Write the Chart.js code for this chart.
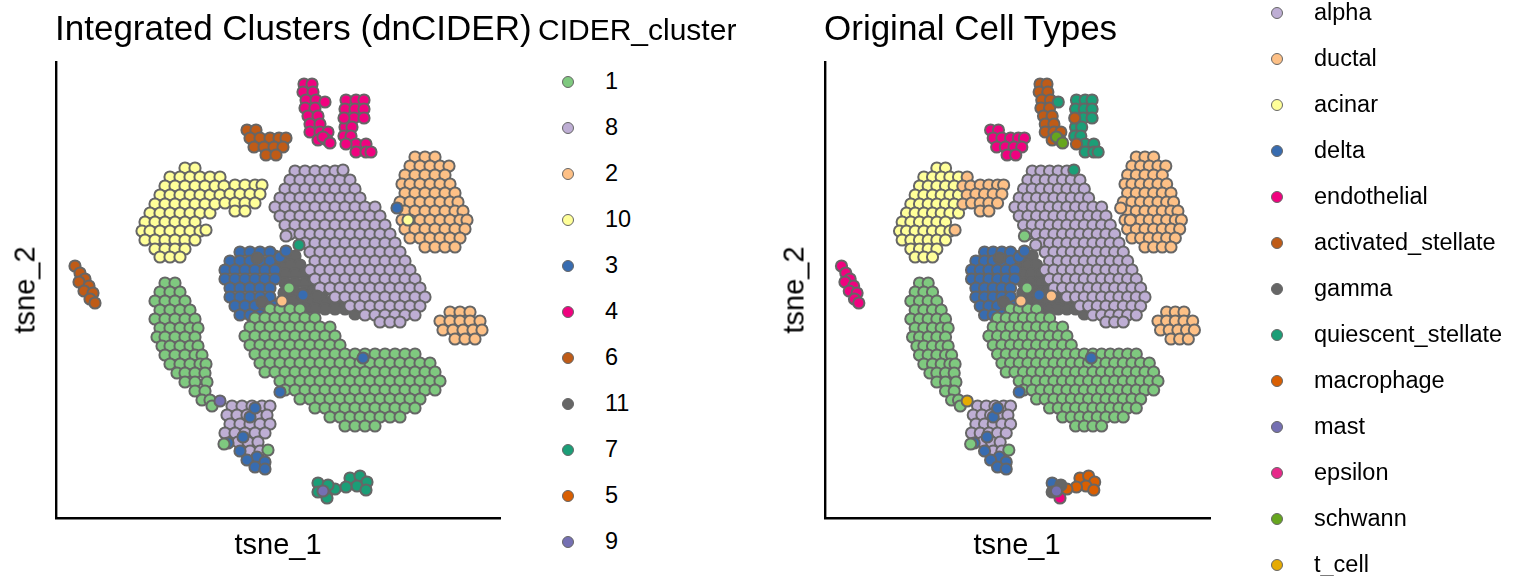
<!DOCTYPE html>
<html>
<head>
<meta charset="utf-8">
<script src="https://cdn.jsdelivr.net/npm/chart.js@4.4.1/dist/chart.umd.min.js"></script>
<style>
  body { margin: 0; width: 1536px; height: 576px; overflow: hidden; position: relative; background: #fff;
         font-family: "Liberation Sans", Arial, Helvetica, sans-serif; color: #000; }
  canvas { position: absolute; top: 0; }
  .t { position: absolute; white-space: nowrap; line-height: 1; }
  .dot { position: absolute; width: 10px; height: 10px; border-radius: 50%; border: 1.5px solid #666666; }
</style>
</head>
<body>
<canvas id="clusters" width="520" height="576" style="left:0"></canvas>
<canvas id="celltypes" width="470" height="576" style="left:760px"></canvas>
<script>
// Legend keys + palette (Accent, then Dark2)
const CLUSTER_KEYS = ['1', '8', '2', '10', '3', '4', '6', '11', '7', '5', '9'];
const CLUSTER_COLORS = ['#7FC97F', '#BEAED4', '#FDC086', '#FFFF99', '#386CB0', '#F0027F', '#BF5B17', '#666666', '#1B9E77', '#D95F02', '#7570B3'];
const CELL_KEYS = ['beta', 'alpha', 'ductal', 'acinar', 'delta', 'endothelial', 'activated_stellate', 'gamma',
  'quiescent_stellate', 'macrophage', 'mast', 'epsilon', 'schwann', 't_cell'];
const CELL_COLORS = ['#7FC97F', '#BEAED4', '#FDC086', '#FFFF99', '#386CB0', '#F0027F', '#BF5B17', '#666666',
  '#1B9E77', '#D95F02', '#7570B3', '#E7298A', '#66A61E', '#E6AB02'];

// tsne_1 / tsne_2 limits
const TSNE1_RANGE = [-22.4, 22.0];
const TSNE2_RANGE = [-22.8, 22.8];

// Cells as [tsne_1, tsne_2], grouped by (CIDER cluster, original cell type)
const GRAY_CORE = [
  [-0.5,3.4],[0.5,3.4],[1.5,3.4],[0,2.5],[1,2.5],[2,2.5],[0.5,1.6],[1.5,1.6],[2.5,1.6],
  [0.5,0.7],[1.5,0.7],[2.5,0.7],[3.3,0.7],[0.4,-0.3],[1.5,-0.2],[2.5,-0.2],[3.3,-0.2],[4.3,-0.2],
  [0.3,-1.3],[1.2,-1.1],[2.2,-1.1],[3.2,-1.1],[4.2,-1.1],[5.2,-1.1],[6.2,-1.1],
  [2.5,-1.9],[3.5,-1.9],[4.5,-1.9],[5.5,-1.9],[6.5,-1.9],[7.5,-2.4]
];
const LAVENDER_CORE = [
  [1.5,11.9],[2.5,11.9],[3.5,11.9],[4.5,11.9],[5.5,11.9],
  [1,11],[2,11],[3,11],[4,11],[5,11],[6,11],[7,11],
  [0.5,10.1],[1.5,10.1],[2.5,10.1],[3.5,10.1],[4.5,10.1],[5.5,10.1],[6.5,10.1],[7.5,10.1],
  [0,9.2],[1,9.2],[2,9.2],[3,9.2],[4,9.2],[5,9.2],[6,9.2],[7,9.2],[8,9.2],
  [-0.5,8.3],[0.5,8.3],[1.5,8.3],[2.5,8.3],[3.5,8.3],[4.5,8.3],[5.5,8.3],[6.5,8.3],[7.5,8.3],[8.5,8.3],[9.5,8.3],
  [0,7.4],[1,7.4],[2,7.4],[3,7.4],[4,7.4],[5,7.4],[6,7.4],[7,7.4],[8,7.4],[9,7.4],[10,7.4],
  [0.5,6.5],[1.5,6.5],[2.5,6.5],[3.5,6.5],[4.5,6.5],[5.5,6.5],[6.5,6.5],[7.5,6.5],[8.5,6.5],[9.5,6.5],[10.5,6.5],
  [1,5.6],[2,5.6],[3,5.6],[4,5.6],[5,5.6],[6,5.6],[7,5.6],[8,5.6],[9,5.6],[10,5.6],[11,5.6],
  [2.5,4.7],[3.5,4.7],[4.5,4.7],[5.5,4.7],[6.5,4.7],[7.5,4.7],[8.5,4.7],[9.5,4.7],[10.5,4.7],[11.5,4.7],
  [3,3.8],[4,3.8],[5,3.8],[6,3.8],[7,3.8],[8,3.8],[9,3.8],[10,3.8],[11,3.8],[12,3.8],
  [3.5,2.9],[4.5,2.9],[5.5,2.9],[6.5,2.9],[7.5,2.9],[8.5,2.9],[9.5,2.9],[10.5,2.9],[11.5,2.9],[12.5,2.9],
  [3,2],[4,2],[5,2],[6,2],[7,2],[8,2],[9,2],[10,2],[11,2],[12,2],[13,2],
  [3.5,1.1],[4.5,1.1],[5.5,1.1],[6.5,1.1],[7.5,1.1],[8.5,1.1],[9.5,1.1],[10.5,1.1],[11.5,1.1],[12.5,1.1],[13.5,1.1],
  [4,0.2],[5,0.2],[6,0.2],[7,0.2],[8,0.2],[9,0.2],[10,0.2],[11,0.2],[12,0.2],[13,0.2],[14,0.2],
  [5.5,-0.7],[6.5,-0.7],[7.5,-0.7],[8.5,-0.7],[9.5,-0.7],[10.5,-0.7],[11.5,-0.7],[12.5,-0.7],[13.5,-0.7],[14.5,-0.7],
  [7,-1.6],[8,-1.6],[9,-1.6],[10,-1.6],[11,-1.6],[12,-1.6],[13,-1.6],[14,-1.6],
  [8.5,-2.5],[9.5,-2.5],[10.5,-2.5],[11.5,-2.5],[12.5,-2.5],[13.5,-2.5],
  [10,-3.2],[11,-3.2],[12,-3.2]
];
const BLUE_CORE = [
  [-4,3.8],[-3,3.8],[-2,3.8],[-1,3.8],
  [-5,2.9],[-4,2.9],[-3,2.9],[-2,2.9],[-1,2.9],
  [-5.5,2],[-4.5,2],[-3.5,2],[-2.5,2],[-1.5,2],[-0.5,2],
  [-5.5,1.1],[-4.5,1.1],[-3.5,1.1],[-2.5,1.1],[-1.5,1.1],[-0.5,1.1],
  [-5,0.2],[-4,0.2],[-3,0.2],[-2,0.2],[-1,0.2],
  [-5,-0.7],[-4,-0.7],[-3,-0.7],[-2,-0.7],[-1,-0.7],
  [-4.5,-1.6],[-3.5,-1.6],[-2.5,-1.6],[-1.5,-1.6],[-0.5,-1.6],
  [-4,-2.5],[-3,-2.5],[-2,-2.5],[-1,-2.5]
];
const GRAY_IN_BLUE = [[-2.3,3.2],[-1.8,-1.2]];
const GREEN_MAIN = [
  [-1,-1.9],[0,-1.9],[1,-1.9],[2,-1.9],
  [-2.5,-2.8],[-1.5,-2.8],[-0.5,-2.8],[0.5,-2.8],[1.5,-2.8],[2.5,-2.8],[3.5,-2.8],
  [-3,-3.7],[-2,-3.7],[-1,-3.7],[0,-3.7],[1,-3.7],[2,-3.7],[3,-3.7],[4,-3.7],[5,-3.7],
  [-3.5,-4.6],[-2.5,-4.6],[-1.5,-4.6],[-0.5,-4.6],[0.5,-4.6],[1.5,-4.6],[2.5,-4.6],[3.5,-4.6],[4.5,-4.6],[5.5,-4.6],
  [-3,-5.5],[-2,-5.5],[-1,-5.5],[0,-5.5],[1,-5.5],[2,-5.5],[3,-5.5],[4,-5.5],[5,-5.5],[6,-5.5],
  [-2.5,-6.4],[-1.5,-6.4],[-0.5,-6.4],[0.5,-6.4],[1.5,-6.4],[2.5,-6.4],[3.5,-6.4],[4.5,-6.4],[5.5,-6.4],
  [6.5,-6.4],[7.5,-6.4],[8.5,-6.4],[9.5,-6.4],[10.5,-6.4],[11.5,-6.4],[12.5,-6.4],[13.5,-6.4],
  [-2,-7.3],[-1,-7.3],[0,-7.3],[1,-7.3],[2,-7.3],[3,-7.3],[4,-7.3],[5,-7.3],[6,-7.3],
  [7,-7.3],[8,-7.3],[9,-7.3],[10,-7.3],[11,-7.3],[12,-7.3],[13,-7.3],[14,-7.3],[15,-7.3],
  [-1.5,-8.2],[-0.5,-8.2],[0.5,-8.2],[1.5,-8.2],[2.5,-8.2],[3.5,-8.2],[4.5,-8.2],[5.5,-8.2],[6.5,-8.2],
  [7.5,-8.2],[8.5,-8.2],[9.5,-8.2],[10.5,-8.2],[11.5,-8.2],[12.5,-8.2],[13.5,-8.2],[14.5,-8.2],[15.5,-8.2],
  [0,-9.1],[1,-9.1],[2,-9.1],[3,-9.1],[4,-9.1],[5,-9.1],[6,-9.1],[7,-9.1],[8,-9.1],
  [9,-9.1],[10,-9.1],[11,-9.1],[12,-9.1],[13,-9.1],[14,-9.1],[15,-9.1],[16,-9.1],
  [0.5,-10],[1.5,-10],[2.5,-10],[3.5,-10],[4.5,-10],[5.5,-10],[6.5,-10],[7.5,-10],
  [8.5,-10],[9.5,-10],[10.5,-10],[11.5,-10],[12.5,-10],[13.5,-10],[14.5,-10],[15.5,-10],
  [2,-10.9],[3,-10.9],[4,-10.9],[5,-10.9],[6,-10.9],[7,-10.9],[8,-10.9],[9,-10.9],[10,-10.9],[11,-10.9],[12,-10.9],[13,-10.9],[14,-10.9],
  [3.5,-11.8],[4.5,-11.8],[5.5,-11.8],[6.5,-11.8],[7.5,-11.8],[8.5,-11.8],[9.5,-11.8],[10.5,-11.8],[11.5,-11.8],[12.5,-11.8],[13.5,-11.8],
  [5,-12.7],[6,-12.7],[7,-12.7],[8,-12.7],[9,-12.7],[10,-12.7],[11,-12.7],[12,-12.7],
  [6.5,-13.6],[7.5,-13.6],[8.5,-13.6],[9.5,-13.6]
];
const GREEN_ARC = [
  [-11.5,0.7],[-10.5,0.7],
  [-12,-0.2],[-11,-0.2],[-10,-0.2],
  [-12.5,-1.1],[-11.5,-1.1],[-10.5,-1.1],[-9.5,-1.1],
  [-12,-2],[-11,-2],[-10,-2],[-9,-2],
  [-12.5,-2.9],[-11.5,-2.9],[-10.5,-2.9],[-9.5,-2.9],[-8.5,-2.9],
  [-12,-3.8],[-11,-3.8],[-10,-3.8],[-9,-3.8],[-8.2,-3.8],
  [-12.3,-4.7],[-11.5,-4.7],[-10.5,-4.7],[-9.5,-4.7],[-8.5,-4.7],
  [-11.8,-5.6],[-11,-5.6],[-10,-5.6],[-9,-5.6],[-8.2,-5.6],
  [-11.5,-6.5],[-10.5,-6.5],[-9.5,-6.5],[-8.5,-6.5],[-7.8,-6.5],
  [-11,-7.4],[-10,-7.4],[-9,-7.4],[-8,-7.4],[-7.4,-7.4],
  [-10.3,-8.3],[-9.5,-8.3],[-8.5,-8.3],[-7.5,-8.3],
  [-9.5,-9.2],[-8.5,-9.2],[-7.3,-9.2],
  [-8.5,-10.1],[-7.5,-10.1],
  [-7.8,-11],[-7,-11],[-6.8,-11.6]
];
const YELLOW_CORE = [
  [-9.5,12.2],[-8.5,12.2],
  [-11,11.3],[-10,11.3],[-9,11.3],[-8,11.3],[-7,11.3],
  [-11.5,10.4],[-10.5,10.4],[-9.5,10.4],[-8.5,10.4],[-7.5,10.4],
  [-12,9.5],[-11,9.5],[-10,9.5],[-9,9.5],[-8,9.5],[-7,9.5],
  [-12.5,8.6],[-11.5,8.6],[-10.5,8.6],[-9.5,8.6],[-8.5,8.6],[-7.5,8.6],
  [-13,7.7],[-12,7.7],[-11,7.7],[-10,7.7],[-9,7.7],[-8,7.7],[-7,7.7],
  [-13.5,6.8],[-12.5,6.8],[-11.5,6.8],[-10.5,6.8],[-9.5,6.8],[-8.5,6.8],
  [-13.8,5.9],[-13,5.9],[-12,5.9],[-11,5.9],[-10,5.9],[-9,5.9],[-8,5.9],
  [-13.5,5],[-12.5,5],[-11.5,5],[-10.5,5],[-9.5,5],[-8.5,5],
  [-12.5,4.1],[-11.5,4.1],[-10.5,4.1],[-9.5,4.1],
  [-12,3.3],[-11,3.3],[-10,3.3]
];
const YELLOW_EDGE = [
  [-6,11.3],[-6.5,10.4],[-5.6,10.4],[-6,9.5],[-6.5,8.6],[-7.4,6],
  [-4.5,10.5],[-3.5,10.5],[-2.5,10.5],[-1.8,10.5],
  [-5,9.6],[-4,9.6],[-3,9.6],[-2,9.6],
  [-5.5,8.7],[-4.5,8.7],[-3.5,8.7],[-2.5,8.7],
  [-4.5,7.9],[-3.5,7.9]
];
const PEACH_MAIN = [
  [13.5,13.3],[14.5,13.3],[15.5,13.3],
  [13,12.4],[14,12.4],[15,12.4],[16,12.4],[16.9,12.4],
  [12.5,11.5],[13.5,11.5],[14.5,11.5],[15.5,11.5],[16.5,11.5],
  [12.2,10.6],[13,10.6],[14,10.6],[15,10.6],[16,10.6],[17,10.6],
  [12.5,9.7],[13.5,9.7],[14.5,9.7],[15.5,9.7],[16.5,9.7],[17.5,9.7],
  [12,8.8],[13,8.8],[14,8.8],[15,8.8],[16,8.8],[17,8.8],[17.8,8.8],
  [12.5,7.9],[13.5,7.9],[14.5,7.9],[15.5,7.9],[16.5,7.9],[17.5,7.9],[18.3,7.9],
  [12.2,7],[13,7],[14,7],[15,7],[16,7],[17,7],[18,7],[18.7,7],
  [12.5,6.1],[13.5,6.1],[14.5,6.1],[15.5,6.1],[16.5,6.1],[17.5,6.1],[18.5,6.1],
  [13,5.2],[14,5.2],[15,5.2],[16,5.2],[17,5.2],[18,5.2],
  [14.5,4.3],[15.5,4.3],[16.5,4.3],[17.5,4.3]
];
const PEACH_SMALL = [
  [17,-2.2],[18,-2.2],[19,-2.2],
  [16,-3.1],[17,-3.1],[18,-3.1],[19,-3.1],[20,-3.1],
  [16.3,-4],[17.3,-4],[18.3,-4],[19.3,-4],[20.2,-4],
  [17.5,-4.9],[18.5,-4.9],[19.5,-4.9]
];
const PINK_ACTIVATED = [
  [2.4,20.6],[3.2,20.6],[2.3,19.8],[3.3,19.8],[2.6,19],[3.6,19],[2.5,18.2],[3.5,18.2],
  [2.8,17.4],[3.8,17.4],[3,16.6],[4,16.6],[3,15.8],[4,15.8],[4.8,15.8],[3.8,15],[4.7,15]
];
const PINK_QUIESCENT = [
  [6.6,19],[7.6,19],[8.4,19],[6.5,18.1],[7.5,18.1],[8.4,18.1],[7.4,17.2],[8.4,17.2],
  [6.5,16.3],[7.2,16.3],[6.4,15.4],[7.1,15.4],[7.6,14.6],[8.6,14.6],[7.6,13.8],[8.6,13.8],[9.1,13.8]
];
const PINK_ACTIVATED_EXTRA = [[6.4,17.2],[6.6,14.6]];
const PINK_QUIESCENT_EXTRA = [[4.5,18.8]];
const PINK_SCHWANN = [[4.3,15.3],[5,14.7]];
const BROWN_TOP = [
  [-3.3,16],[-2.4,16],[-3,15.2],[-2,15.2],[-1,15.2],[-0.1,15.2],[0.6,15.2],
  [-2.6,14.3],[-1.6,14.3],[-0.6,14.3],[0.3,14.3],[-1.4,13.5],[-0.4,13.5]
];
const BROWN_LEFT = [
  [-20.5,2.4],[-20,1.7],[-19.5,1.1],[-20.1,0.8],[-19.1,0.4],[-19.6,-0.1],[-18.7,-0.3],[-19,-0.9],[-18.5,-1.3]
];
const BOTTOM_ALPHA = [
  [-4.8,-11.6],[-3.8,-11.6],[-2.8,-11.6],[-1.8,-11.6],[-1,-11.6],
  [-5.3,-12.5],[-4.3,-12.5],[-3.3,-12.5],[-2.3,-12.5],[-1.3,-12.5],
  [-5,-13.4],[-4,-13.4],[-3,-13.4],[-2,-13.4],[-1,-13.4],
  [-5.5,-14.3],[-4.5,-14.3],[-3.5,-14.3],[-2.5,-14.3],[-1.5,-14.3],
  [-4.2,-15.2],[-3.2,-15.2],[-2.2,-15.2],[-3,-16.1],[-2,-16.1]
];
const BOTTOM_DELTA = [
  [-3,-12.7],[-2.5,-11.8],[-3.7,-14.7],[-5.2,-15.3],[-2.3,-16.7],[-1.5,-17.2],
  [-4,-16.1],[-3.3,-17],[-2.5,-17.7],[-1.5,-17.9]
];
const BOTTOM_BETA = [[-5.6,-15.4],[-1.2,-16]];
const TEAL_MACROPHAGE = [[7,-18.8],[8,-18.6],[8.7,-19.2],[7.7,-19.6],[8.6,-20],[6.6,-19.7],[5.5,-19.9]];
const TEAL_DELTA = [[3.8,-19.3]];
const TEAL_GAMMA = [[4.8,-19.5],[3.8,-20.2]];
const TEAL_ENDOTHELIAL = [[4.7,-20.8]];
const MAST_CELLS = [[4.3,-20.1]];
const LONE_TEAL = [[1.9,4.5]];
const LONE_QUIESCENT = [[6.3,12]];
const LONE_BETA = [[0.9,0.2]];
const LONE_DUCTAL = [[0.2,-1.1]];
const GAMMA_AS_DUCTAL = [[3.7,-0.6]];
const ALPHA_AS_BETA = [[0.6,5.4]];
const DELTA_AS_DUCTAL = [[11.7,8.2]];
const ACINAR_AS_DUCTAL = [[12.8,7]];
const STRAY_DELTA = [[2.3,-0.5],[0,3.3],[0.6,3.9],[0,-10.2],[8.3,-6.8]];
const T_CELLS = [[-6,-11.1]];

// drawing order: first entry at the bottom
const GROUPS = [
  [GRAY_CORE, '11', 'gamma'],
  [LAVENDER_CORE, '8', 'alpha'],
  [BLUE_CORE, '3', 'delta'],
  [GRAY_IN_BLUE, '11', 'gamma'],
  [GREEN_MAIN, '1', 'beta'],
  [GREEN_ARC, '1', 'beta'],
  [YELLOW_CORE, '10', 'acinar'],
  [YELLOW_EDGE, '10', 'ductal'],
  [PEACH_MAIN, '2', 'ductal'],
  [PEACH_SMALL, '2', 'ductal'],
  [PINK_ACTIVATED, '4', 'activated_stellate'],
  [PINK_QUIESCENT, '4', 'quiescent_stellate'],
  [PINK_ACTIVATED_EXTRA, '4', 'activated_stellate'],
  [PINK_QUIESCENT_EXTRA, '4', 'quiescent_stellate'],
  [PINK_SCHWANN, '4', 'schwann'],
  [BROWN_TOP, '6', 'endothelial'],
  [BROWN_LEFT, '6', 'endothelial'],
  [BOTTOM_ALPHA, '8', 'alpha'],
  [BOTTOM_DELTA, '3', 'delta'],
  [BOTTOM_BETA, '1', 'beta'],
  [TEAL_MACROPHAGE, '7', 'macrophage'],
  [TEAL_DELTA, '7', 'delta'],
  [TEAL_GAMMA, '7', 'gamma'],
  [TEAL_ENDOTHELIAL, '7', 'endothelial'],
  [MAST_CELLS, '9', 'mast'],
  [LONE_TEAL, '7', 'alpha'],
  [LONE_QUIESCENT, '8', 'quiescent_stellate'],
  [LONE_BETA, '1', 'beta'],
  [LONE_DUCTAL, '2', 'ductal'],
  [GAMMA_AS_DUCTAL, '11', 'ductal'],
  [ALPHA_AS_BETA, '8', 'beta'],
  [DELTA_AS_DUCTAL, '3', 'ductal'],
  [ACINAR_AS_DUCTAL, '10', 'ductal'],
  [STRAY_DELTA, '3', 'delta'],
  [T_CELLS, '9', 't_cell'],
];

const POINT_EDGE = '#666666';

function colorFor(keys, colors, key) {
  return colors[keys.indexOf(key)];
}

function buildDatasets(byCluster) {
  return GROUPS.map(([pts, cluster, cell], i) => ({
    label: byCluster ? cluster : cell,
    data: pts.map(([x, y]) => ({ x, y })),
    backgroundColor: byCluster ? colorFor(CLUSTER_KEYS, CLUSTER_COLORS, cluster) : colorFor(CELL_KEYS, CELL_COLORS, cell),
    borderColor: POINT_EDGE,
    borderWidth: 2,
    pointRadius: 5.6,
    order: GROUPS.length - i,
  }));
}

function axisOpts(range) {
  return {
    type: 'linear',
    min: range[0],
    max: range[1],
    ticks: { display: false },
    grid: { display: false, drawTicks: false },
    border: { display: true, color: '#000', width: 2.4 },
  };
}

function makePanel(canvasId, byCluster, padLeft, padRight) {
  return new Chart(document.getElementById(canvasId), {
    type: 'scatter',
    data: { datasets: buildDatasets(byCluster) },
    options: {
      responsive: false,
      animation: false,
      events: [],
      layout: { padding: { left: padLeft, right: padRight, top: 62, bottom: 58 } },
      plugins: { legend: { display: false }, tooltip: { enabled: false } },
      scales: { x: axisOpts(TSNE1_RANGE), y: axisOpts(TSNE2_RANGE) },
    },
  });
}

makePanel('clusters', true, 56, 20);
makePanel('celltypes', false, 65, 20);

// text: positioned by baseline (Liberation Sans, line-height 1)
function addText(str, x, baseline, size, how) {
  const el = document.createElement('div');
  el.className = 't';
  el.textContent = str;
  el.style.fontSize = size + 'px';
  el.style.left = x + 'px';
  el.style.top = (baseline - 0.8465 * size) + 'px';
  if (how === 'center') el.style.transform = 'translateX(-50%)';
  document.body.appendChild(el);
  return el;
}

function addRotated(str, cx, cy, size) {
  const el = document.createElement('div');
  el.className = 't';
  el.textContent = str;
  el.style.fontSize = size + 'px';
  el.style.left = cx + 'px';
  el.style.top = cy + 'px';
  el.style.transform = 'translate(-50%,-50%) rotate(-90deg)';
  document.body.appendChild(el);
}

function addLegend(keys, colors, dotX, textX, firstY, step, size) {
  keys.forEach((k, i) => {
    const y = firstY + step * i;
    if (y < 0) return;
    const d = document.createElement('div');
    d.className = 'dot';
    d.style.background = colors[i];
    d.style.left = (dotX - 6.5) + 'px';
    d.style.top = (y - 6.5) + 'px';
    document.body.appendChild(d);
    const t = document.createElement('div');
    t.className = 't';
    t.textContent = k;
    t.style.fontSize = size + 'px';
    t.style.left = textX + 'px';
    t.style.top = (y - size / 2) + 'px';
    document.body.appendChild(t);
  });
}

addText('Integrated Clusters (dnCIDER)', 55, 40, 35);
addText('Original Cell Types', 824, 40, 35);
addText('CIDER_cluster', 538, 40, 30);
addText('tsne_1', 278, 555, 29, 'center');
addText('tsne_1', 1017, 555, 29, 'center');
addRotated('tsne_2', 25, 290, 29);
addRotated('tsne_2', 794, 290, 29);

addLegend(CLUSTER_KEYS, CLUSTER_COLORS, 568, 605, 82, 46, 23.5);
addLegend(CELL_KEYS, CELL_COLORS, 1277, 1314, -33, 46, 23.5);
</script>
</body>
</html>
